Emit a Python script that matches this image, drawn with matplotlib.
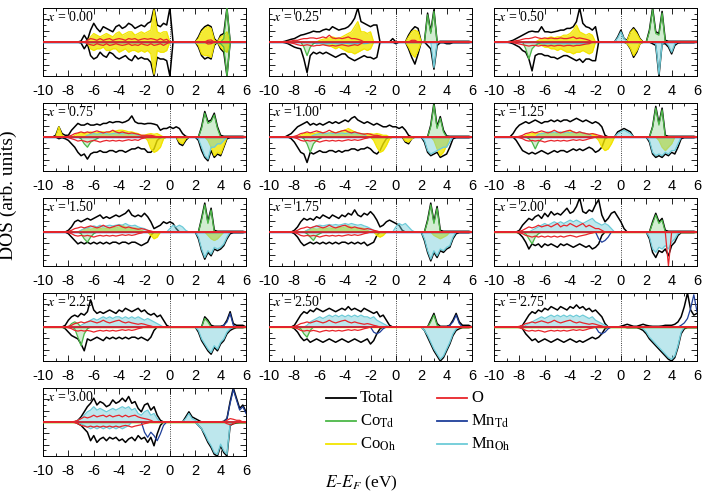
import numpy as np
import matplotlib.pyplot as plt
from matplotlib.ticker import MultipleLocator
from matplotlib.lines import Line2D

plt.rcParams['mathtext.fontset'] = 'stix'
plt.rcParams['axes.unicode_minus'] = False

STEP = 0.25
energy = np.arange(-10, 6 + STEP / 2, STEP)

# every curve: list of (first energy, values every 0.25 eV); DOS is zero elsewhere
# spin-down lists hold magnitudes, they are drawn below the axis

# ---- x = 0.00
tot_up_000 = [(-7.0, [0.03, 0.2, 0.05, 0.35, 0.55, 0.4, 0.3, 0.45, 0.4, 0.35, 0.3, 0.45, 0.5, 0.4, 0.45, 0.55, 0.5, 0.4, 0.45, 0.5, 0.45, 0.55, 0.6, 1.0, 0.5, 0.45, 0.55, 0.5, 1.0, 0.0]),
              (2.0, [0.0, 0.15, 0.35, 0.45, 0.5, 0.45, 0.1, 0.0, 0.2, 0.25, 1.0, 0.0])]
tot_dn_000 = [(-7.0, [0.03, 0.2, 0.05, 0.4, 0.5, 0.45, 0.3, 0.4, 0.45, 0.3, 0.35, 0.45, 0.5, 0.45, 0.4, 0.5, 0.55, 0.4, 0.5, 0.45, 0.5, 0.5, 0.6, 1.0, 0.45, 0.5, 0.5, 0.55, 1.0, 0.0]),
              (2.0, [0.0, 0.15, 0.4, 0.5, 0.45, 0.5, 0.1, 0.0, 0.2, 0.3, 1.0, 0.0])]
cooh_up_000 = [(-6.5, [0.02, 0.15, 0.25, 0.2, 0.15, 0.2, 0.25, 0.2, 0.15, 0.25, 0.3, 0.2, 0.25, 0.3, 0.3, 0.2, 0.25, 0.3, 0.25, 0.3, 0.35, 0.95, 0.3, 0.25, 0.3, 0.3, 0.0]),
               (2.0, [0.0, 0.1, 0.3, 0.4, 0.45, 0.4, 0.05, 0.0, 0.15, 0.2, 0.3, 0.0])]
cooh_dn_000 = [(-6.5, [0.02, 0.2, 0.25, 0.2, 0.2, 0.15, 0.25, 0.25, 0.2, 0.2, 0.3, 0.25, 0.2, 0.3, 0.25, 0.25, 0.3, 0.25, 0.3, 0.25, 0.35, 0.95, 0.25, 0.3, 0.3, 0.25, 0.0]),
               (2.0, [0.0, 0.1, 0.35, 0.4, 0.4, 0.45, 0.05, 0.0, 0.15, 0.25, 0.3, 0.0])]
cotd_up_000 = [(4.0, [0.0, 0.1, 1.0, 0.0])]
cotd_dn_000 = [(4.0, [0.05, 0.15, 1.0, 0.0])]
o_up_000 = [(-6.5, [0.05, 0.1, 0.08, 0.05, 0.1, 0.05, 0.08, 0.1, 0.05, 0.08, 0.1, 0.08, 0.05, 0.1, 0.08, 0.1, 0.05, 0.08, 0.1, 0.08, 0.1, 0.08, 0.05, 0.1, 0.05, 0.08, 0.0]),
            (2.75, [0.0, 0.05, 0.06, 0.0])]
o_dn_000 = [(-6.5, [0.05, 0.08, 0.1, 0.05, 0.08, 0.1, 0.05, 0.1, 0.08, 0.05, 0.08, 0.1, 0.08, 0.05, 0.1, 0.08, 0.1, 0.05, 0.08, 0.1, 0.05, 0.1, 0.08, 0.05, 0.1, 0.05, 0.0]),
            (2.75, [0.0, 0.06, 0.05, 0.0])]

# ---- x = 0.25
tot_up_025 = [(-9.0, [0.0, 0.02, 0.05, 0.08, 0.1, 0.15, 0.2, 0.22, 0.25, 0.28, 0.32, 0.3, 0.3, 0.35, 0.38, 0.35, 0.45, 0.4, 0.35, 0.38, 0.4, 0.45, 0.55, 0.7, 1.0, 0.6, 0.55, 0.5, 0.45, 0.5, 0.5, 0.0]),
              (-0.5, [0.0, 0.1, 0.0]), (0.75, [0.0, 0.2, 0.35, 0.45, 0.4, 0.0]),
              (2.25, [0.0, 0.85, 0.3, 0.95, 0.0, 0.02, 0.02, 0.02, 0.02, 0.02, 0.02, 0.02, 0.02, 0.02, 0.02])]
tot_dn_025 = [(-9.0, [0.0, 0.02, 0.05, 0.1, 0.15, 0.18, 0.2, 0.5, 0.9, 0.4, 0.3, 0.35, 0.3, 0.35, 0.3, 0.35, 0.4, 0.45, 0.4, 0.35, 0.35, 0.45, 0.5, 0.55, 0.5, 0.45, 0.4, 0.45, 0.45, 0.5, 0.45, 0.0]),
              (-0.25, [0.0, 0.05, 0.0]), (0.75, [0.0, 0.2, 0.45, 0.65, 0.35, 0.0]),
              (2.5, [0.1, 0.2, 0.8, 0.1, 0.02, 0.02, 0.05, 0.05, 0.02, 0.02, 0.02, 0.02, 0.02, 0.02])]
cooh_up_025 = [(-6.0, [0.05, 0.08, 0.1, 0.12, 0.15, 0.12, 0.1, 0.15, 0.2, 0.25, 0.3, 0.45, 0.6, 0.3, 0.3, 0.25, 0.3, 0.0]),
               (0.75, [0.0, 0.15, 0.3, 0.35, 0.3, 0.0])]
cooh_dn_025 = [(-6.0, [0.05, 0.05, 0.1, 0.1, 0.15, 0.2, 0.15, 0.2, 0.25, 0.3, 0.3, 0.35, 0.3, 0.25, 0.2, 0.25, 0.2, 0.0]),
               (0.75, [0.0, 0.15, 0.35, 0.45, 0.25, 0.0])]
cotd_up_025 = [(2.25, [0.0, 0.8, 0.25, 0.9, 0.0])]
cotd_dn_025 = [(-7.5, [0.0, 0.15, 0.4, 0.15, 0.05, 0.0])]
mnoh_dn_025 = [(-6.5, [0.03, 0.05, 0.04, 0.05, 0.06, 0.05, 0.04, 0.05, 0.06, 0.05, 0.04, 0.05, 0.06, 0.05, 0.05, 0.04, 0.05, 0.04, 0.0]),
               (2.75, [0.0, 0.75, 0.0])]
o_up_025 = [(-8.5, [0.02, 0.03, 0.05, 0.05, 0.08, 0.1, 0.1, 0.12, 0.12, 0.1, 0.12, 0.15, 0.12, 0.2, 0.12, 0.1, 0.12, 0.1, 0.12, 0.15, 0.1, 0.1, 0.08, 0.05, 0.0]),
            (1.0, [0.0, 0.05, 0.05, 0.0])]
o_dn_025 = [(-8.5, [0.02, 0.03, 0.05, 0.08, 0.1, 0.1, 0.08, 0.1, 0.12, 0.1, 0.1, 0.08, 0.1, 0.12, 0.1, 0.12, 0.1, 0.08, 0.1, 0.12, 0.1, 0.08, 0.1, 0.05, 0.0])]

# ---- x = 0.50
tot_up_050 = [(-9.0, [0.0, 0.02, 0.05, 0.1, 0.15, 0.2, 0.25, 0.3, 0.32, 0.3, 0.3, 0.45, 0.3, 0.3, 0.28, 0.3, 0.32, 0.35, 0.35, 0.4, 0.4, 0.45, 0.6, 1.0, 0.55, 0.45, 0.42, 0.35, 0.45, 0.0]),
              (-0.5, [0.0, 0.15, 0.35, 0.1]), (0.5, [0.05, 0.3, 0.42, 0.3, 0.1, 0.0]),
              (2.0, [0.0, 0.35, 1.0, 0.3, 0.25, 0.9, 0.05, 0.02, 0.02, 0.02, 0.02, 0.02, 0.02, 0.02, 0.02, 0.02, 0.02])]
tot_dn_050 = [(-9.0, [0.0, 0.02, 0.05, 0.1, 0.15, 0.25, 0.3, 0.5, 0.85, 0.4, 0.35, 0.35, 0.4, 0.4, 0.45, 0.45, 0.5, 0.45, 0.4, 0.4, 0.45, 0.5, 0.55, 0.5, 0.6, 0.5, 0.5, 0.55, 0.55, 0.0]),
              (0.5, [0.05, 0.2, 0.45, 0.3, 0.05, 0.0]),
              (2.5, [0.05, 0.1, 1.0, 0.05, 0.05, 0.15, 0.35, 0.1, 0.03, 0.02, 0.02, 0.02, 0.02, 0.02])]
cooh_up_050 = [(-6.5, [0.05, 0.1, 0.1, 0.12, 0.15, 0.12, 0.15, 0.15, 0.2, 0.2, 0.25, 0.35, 0.5, 0.3, 0.25, 0.2, 0.25, 0.2, 0.0]),
               (0.5, [0.05, 0.28, 0.38, 0.25, 0.08, 0.0])]
cooh_dn_050 = [(-6.5, [0.05, 0.1, 0.15, 0.15, 0.2, 0.2, 0.25, 0.2, 0.25, 0.3, 0.3, 0.35, 0.3, 0.3, 0.25, 0.3, 0.35, 0.3, 0.0]),
               (0.5, [0.05, 0.18, 0.4, 0.25, 0.05, 0.0])]
cotd_up_050 = [(2.0, [0.0, 0.3, 0.95, 0.25, 0.2, 0.85, 0.0])]
cotd_dn_050 = [(-7.75, [0.0, 0.2, 0.5, 0.2, 0.1, 0.05, 0.0])]
mnoh_up_050 = [(-0.5, [0.0, 0.12, 0.3, 0.1, 0.0])]
mnoh_dn_050 = [(-6.5, [0.04, 0.05, 0.06, 0.05, 0.06, 0.05, 0.06, 0.05, 0.06, 0.05, 0.06, 0.05, 0.06, 0.05, 0.06, 0.05, 0.04, 0.0]),
               (2.5, [0.0, 0.05, 0.95, 0.05, 0.0, 0.1, 0.3, 0.05, 0.0])]
o_up_050 = [(-8.5, [0.02, 0.04, 0.05, 0.08, 0.1, 0.1, 0.12, 0.15, 0.12, 0.1, 0.12, 0.1, 0.12, 0.1, 0.1, 0.12, 0.1, 0.1, 0.12, 0.15, 0.1, 0.12, 0.1, 0.08, 0.05, 0.0])]
o_dn_050 = [(-8.5, [0.02, 0.04, 0.06, 0.08, 0.1, 0.12, 0.1, 0.1, 0.12, 0.1, 0.1, 0.12, 0.1, 0.12, 0.1, 0.1, 0.12, 0.1, 0.1, 0.12, 0.1, 0.1, 0.08, 0.06, 0.05, 0.0])]

# ---- x = 0.75
tot_up_075 = [(-9.0, [0.05, 0.3, 0.1, 0.05, 0.05, 0.2, 0.3, 0.4, 0.35, 0.35, 0.4, 0.35, 0.35, 0.38, 0.35, 0.4, 0.4, 0.45, 0.42, 0.45, 0.45, 0.42, 0.45, 0.5, 0.62, 0.45, 0.4, 0.4, 0.38, 0.4, 0.4, 0.38, 0.35, 0.2, 0.25, 0.25, 0.3, 0.25, 0.3, 0.25, 0.1, 0.02, 0.0]),
              (2.25, [0.0, 0.3, 0.75, 0.45, 0.5, 0.7, 0.3, 0.05, 0.02, 0.02, 0.02, 0.02, 0.02, 0.02, 0.02])]
tot_dn_075 = [(-8.75, [0.05, 0.02, 0.05, 0.1, 0.2, 0.3, 0.45, 0.55, 0.5, 0.65, 0.5, 0.45, 0.45, 0.4, 0.45, 0.45, 0.4, 0.4, 0.45, 0.4, 0.4, 0.45, 0.4, 0.35, 0.35, 0.3, 0.35, 0.35, 0.45, 0.45, 0.35, 0.1, 0.02, 0.0]),
              (0.5, [0.0, 0.2, 0.25, 0.1, 0.0]),
              (2.0, [0.0, 0.1, 0.4, 0.6, 0.7, 0.4, 0.6, 0.5, 0.55, 0.3, 0.05, 0.02, 0.02, 0.02, 0.02, 0.02])]
cooh_up_075 = [(-9.0, [0.0, 0.3, 0.05, 0.0]),
               (-7.5, [0.05, 0.1, 0.12, 0.1, 0.12, 0.15, 0.12, 0.12, 0.15, 0.15, 0.12, 0.15, 0.15, 0.18, 0.2, 0.2, 0.18, 0.15, 0.15, 0.12, 0.1, 0.05, 0.05, 0.08, 0.1, 0.08, 0.1, 0.05, 0.0])]
cooh_dn_075 = [(-1.75, [0.1, 0.35, 0.45, 0.4, 0.3, 0.05, 0.0]), (0.5, [0.0, 0.15, 0.2, 0.05, 0.0]),
               (3.0, [0.1, 0.3, 0.55, 0.45, 0.5, 0.25, 0.0])]
cotd_up_075 = [(2.25, [0.0, 0.25, 0.7, 0.4, 0.45, 0.65, 0.25, 0.0])]
cotd_dn_075 = [(-7.0, [0.05, 0.2, 0.3, 0.15, 0.1, 0.05, 0.0])]
mnoh_up_075 = [(-6.5, [0.05, 0.08, 0.1, 0.08, 0.1, 0.12, 0.1, 0.08, 0.1, 0.12, 0.1, 0.1, 0.12, 0.1, 0.08, 0.1, 0.05, 0.0])]
mnoh_dn_075 = [(2.0, [0.0, 0.05, 0.3, 0.55, 0.65, 0.3, 0.3, 0.2, 0.2, 0.1, 0.0])]
o_up_075 = [(-8.0, [0.02, 0.05, 0.1, 0.12, 0.15, 0.12, 0.15, 0.12, 0.15, 0.18, 0.15, 0.12, 0.15, 0.15, 0.2, 0.15, 0.12, 0.15, 0.12, 0.1, 0.12, 0.1, 0.08, 0.05, 0.05, 0.05, 0.05, 0.03, 0.0])]
o_dn_075 = [(-8.0, [0.02, 0.05, 0.08, 0.12, 0.1, 0.12, 0.15, 0.12, 0.1, 0.12, 0.15, 0.12, 0.1, 0.12, 0.1, 0.12, 0.1, 0.12, 0.1, 0.08, 0.1, 0.08, 0.1, 0.05, 0.03, 0.0])]

# ---- x = 1.00
tot_up_100 = [(-8.75, [0.0, 0.05, 0.1, 0.2, 0.3, 0.35, 0.4, 0.45, 0.35, 0.4, 0.35, 0.4, 0.35, 0.4, 0.45, 0.4, 0.45, 0.4, 0.45, 0.5, 0.45, 0.55, 0.6, 0.5, 0.45, 0.4, 0.45, 0.4, 0.35, 0.4, 0.35, 0.3, 0.3, 0.35, 0.3, 0.3, 0.25, 0.3, 0.2, 0.05, 0.0]),
              (2.5, [0.0, 0.35, 1.0, 0.3, 0.6, 0.2, 0.03, 0.02, 0.02, 0.02, 0.02, 0.02, 0.02, 0.02])]
tot_dn_100 = [(-8.5, [0.0, 0.05, 0.15, 0.3, 0.45, 0.5, 0.75, 0.45, 0.5, 0.45, 0.4, 0.45, 0.45, 0.4, 0.4, 0.45, 0.4, 0.45, 0.4, 0.4, 0.35, 0.35, 0.4, 0.35, 0.35, 0.3, 0.35, 0.45, 0.5, 0.4, 0.2, 0.05, 0.0]),
              (0.5, [0.0, 0.15, 0.2, 0.05, 0.0]),
              (2.0, [0.0, 0.15, 0.45, 0.55, 0.5, 0.45, 0.6, 0.55, 0.5, 0.3, 0.05, 0.02, 0.02, 0.02, 0.02, 0.02])]
cooh_up_100 = [(-7.5, [0.05, 0.1, 0.1, 0.12, 0.1, 0.12, 0.15, 0.12, 0.1, 0.12, 0.15, 0.12, 0.15, 0.18, 0.2, 0.25, 0.2, 0.15, 0.12, 0.1, 0.1, 0.08, 0.1, 0.08, 0.1, 0.08, 0.05, 0.05, 0.0])]
cooh_dn_100 = [(-1.75, [0.1, 0.3, 0.45, 0.4, 0.25, 0.05, 0.0]), (0.5, [0.0, 0.12, 0.15, 0.05, 0.0]),
               (3.0, [0.1, 0.35, 0.55, 0.45, 0.25, 0.0])]
cotd_up_100 = [(2.5, [0.0, 0.3, 0.95, 0.25, 0.55, 0.15, 0.0])]
cotd_dn_100 = [(-7.25, [0.05, 0.2, 0.45, 0.2, 0.1, 0.05, 0.0])]
mnoh_up_100 = [(-6.5, [0.05, 0.08, 0.1, 0.12, 0.1, 0.12, 0.1, 0.12, 0.1, 0.12, 0.1, 0.12, 0.1, 0.12, 0.1, 0.1, 0.08, 0.0])]
mnoh_dn_100 = [(2.0, [0.0, 0.1, 0.4, 0.5, 0.45, 0.4, 0.35, 0.3, 0.3, 0.15, 0.0])]
o_up_100 = [(-8.0, [0.02, 0.05, 0.1, 0.12, 0.15, 0.12, 0.15, 0.18, 0.15, 0.12, 0.15, 0.2, 0.15, 0.12, 0.15, 0.18, 0.2, 0.15, 0.12, 0.15, 0.12, 0.1, 0.08, 0.1, 0.08, 0.05, 0.05, 0.03, 0.0])]
o_dn_100 = [(-8.0, [0.02, 0.05, 0.1, 0.12, 0.1, 0.12, 0.1, 0.12, 0.15, 0.12, 0.1, 0.12, 0.1, 0.12, 0.1, 0.12, 0.1, 0.08, 0.1, 0.08, 0.1, 0.08, 0.05, 0.03, 0.0])]

# ---- x = 1.25
tot_up_125 = [(-8.75, [0.0, 0.1, 0.25, 0.35, 0.4, 0.45, 0.4, 0.45, 0.5, 0.45, 0.4, 0.45, 0.45, 0.5, 0.45, 0.5, 0.45, 0.5, 0.5, 0.45, 0.5, 0.55, 0.5, 0.45, 0.5, 0.45, 0.4, 0.45, 0.4, 0.3, 0.05, 0.0]),
              (-0.5, [0.0, 0.15, 0.2, 0.25, 0.2, 0.15, 0.0]),
              (2.25, [0.0, 0.3, 0.9, 0.4, 0.85, 0.05, 0.02, 0.02, 0.02, 0.02, 0.02, 0.02, 0.02, 0.02, 0.02])]
tot_dn_125 = [(-8.5, [0.0, 0.1, 0.25, 0.4, 0.45, 0.5, 0.45, 0.5, 0.45, 0.4, 0.45, 0.5, 0.45, 0.4, 0.45, 0.4, 0.4, 0.45, 0.4, 0.35, 0.4, 0.35, 0.4, 0.35, 0.3, 0.35, 0.45, 0.4, 0.3, 0.05, 0.0]),
              (2.0, [0.0, 0.15, 0.5, 0.6, 0.55, 0.6, 0.5, 0.55, 0.45, 0.5, 0.3, 0.05, 0.02, 0.02, 0.02, 0.02])]
cooh_up_125 = [(-7.5, [0.05, 0.08, 0.1, 0.12, 0.1, 0.12, 0.1, 0.12, 0.15, 0.12, 0.1, 0.12, 0.15, 0.15, 0.18, 0.15, 0.12, 0.1, 0.12, 0.1, 0.08, 0.1, 0.05, 0.0])]
cooh_dn_125 = [(-1.75, [0.1, 0.3, 0.4, 0.35, 0.2, 0.0]), (3.0, [0.1, 0.3, 0.4, 0.3, 0.2, 0.0])]
cotd_up_125 = [(2.25, [0.0, 0.28, 0.85, 0.35, 0.8, 0.0])]
cotd_dn_125 = [(-7.25, [0.05, 0.15, 0.35, 0.15, 0.05, 0.0])]
mnoh_up_125 = [(-6.5, [0.08, 0.1, 0.12, 0.15, 0.12, 0.15, 0.12, 0.15, 0.12, 0.15, 0.12, 0.15, 0.12, 0.15, 0.12, 0.1, 0.08, 0.0]),
               (-0.5, [0.0, 0.1, 0.15, 0.2, 0.15, 0.1, 0.0])]
mnoh_dn_125 = [(2.0, [0.0, 0.1, 0.45, 0.55, 0.5, 0.55, 0.45, 0.5, 0.4, 0.4, 0.2, 0.0])]
o_up_125 = [(-8.0, [0.02, 0.05, 0.1, 0.12, 0.15, 0.12, 0.15, 0.18, 0.15, 0.12, 0.15, 0.2, 0.15, 0.12, 0.15, 0.18, 0.2, 0.15, 0.12, 0.15, 0.12, 0.1, 0.08, 0.1, 0.08, 0.05, 0.03, 0.0])]
o_dn_125 = [(-8.0, [0.02, 0.05, 0.1, 0.12, 0.1, 0.12, 0.1, 0.12, 0.15, 0.12, 0.1, 0.12, 0.1, 0.12, 0.1, 0.12, 0.1, 0.08, 0.1, 0.08, 0.1, 0.08, 0.05, 0.03, 0.0])]

# ---- x = 1.50
tot_up_150 = [(-8.25, [0.0, 0.05, 0.15, 0.3, 0.35, 0.3, 0.35, 0.4, 0.35, 0.4, 0.45, 0.5, 0.4, 0.45, 0.4, 0.45, 0.5, 0.45, 0.5, 0.55, 0.65, 0.5, 0.45, 0.5, 0.45, 0.55, 0.45, 0.3, 0.1, 0.15, 0.2, 0.3, 0.25, 0.3, 0.25, 0.1, 0.0]),
              (2.25, [0.0, 0.4, 0.85, 0.3, 0.7, 0.05, 0.02, 0.02, 0.02, 0.02, 0.02, 0.02, 0.02, 0.02, 0.02])]
tot_dn_150 = [(-8.25, [0.0, 0.05, 0.15, 0.25, 0.35, 0.3, 0.35, 0.3, 0.35, 0.3, 0.35, 0.3, 0.35, 0.3, 0.35, 0.3, 0.3, 0.35, 0.3, 0.3, 0.35, 0.3, 0.3, 0.35, 0.4, 0.35, 0.3, 0.1, 0.0]),
              (2.0, [0.0, 0.2, 0.55, 0.8, 0.6, 0.7, 0.5, 0.55, 0.5, 0.4, 0.2, 0.05, 0.02, 0.02, 0.02, 0.02])]
cooh_up_150 = [(-7.0, [0.05, 0.08, 0.1, 0.08, 0.1, 0.12, 0.1, 0.12, 0.1, 0.12, 0.15, 0.12, 0.15, 0.2, 0.15, 0.12, 0.1, 0.12, 0.1, 0.05, 0.0])]
cooh_dn_150 = [(-1.5, [0.1, 0.2, 0.15, 0.0]), (3.0, [0.1, 0.2, 0.25, 0.2, 0.1, 0.0])]
cotd_up_150 = [(2.25, [0.0, 0.35, 0.8, 0.25, 0.65, 0.0])]
cotd_dn_150 = [(-7.0, [0.05, 0.2, 0.3, 0.15, 0.05, 0.0])]
mnoh_up_150 = [(-7.0, [0.05, 0.1, 0.12, 0.15, 0.18, 0.15, 0.2, 0.15, 0.18, 0.2, 0.18, 0.2, 0.22, 0.2, 0.25, 0.2, 0.18, 0.2, 0.15, 0.12, 0.1, 0.05, 0.0]),
               (-0.25, [0.0, 0.1, 0.2, 0.15, 0.2, 0.15, 0.05, 0.0])]
mnoh_dn_150 = [(2.0, [0.0, 0.15, 0.5, 0.75, 0.55, 0.65, 0.45, 0.5, 0.45, 0.35, 0.15, 0.0])]
o_up_150 = [(-8.0, [0.02, 0.05, 0.1, 0.12, 0.15, 0.12, 0.15, 0.18, 0.15, 0.12, 0.15, 0.2, 0.15, 0.12, 0.15, 0.18, 0.2, 0.15, 0.12, 0.15, 0.12, 0.1, 0.08, 0.1, 0.08, 0.05, 0.03, 0.0])]
o_dn_150 = [(-8.0, [0.02, 0.05, 0.1, 0.12, 0.1, 0.12, 0.1, 0.12, 0.15, 0.12, 0.1, 0.12, 0.1, 0.12, 0.1, 0.12, 0.1, 0.08, 0.1, 0.08, 0.1, 0.08, 0.05, 0.03, 0.0])]

# ---- x = 1.75
tot_up_175 = [(-8.25, [0.0, 0.05, 0.15, 0.3, 0.4, 0.35, 0.4, 0.35, 0.45, 0.4, 0.5, 0.45, 0.4, 0.5, 0.45, 0.4, 0.5, 0.45, 0.55, 0.5, 0.65, 0.5, 0.45, 0.55, 0.5, 0.6, 0.5, 0.35, 0.15, 0.2, 0.3, 0.35, 0.3, 0.25, 0.2, 0.05, 0.0]),
              (2.25, [0.0, 0.35, 0.85, 0.3, 0.75, 0.05, 0.02, 0.02, 0.02, 0.02, 0.02, 0.02, 0.02, 0.02, 0.02])]
tot_dn_175 = [(-8.25, [0.0, 0.05, 0.15, 0.3, 0.4, 0.35, 0.3, 0.35, 0.3, 0.35, 0.3, 0.35, 0.3, 0.35, 0.3, 0.35, 0.3, 0.3, 0.35, 0.3, 0.35, 0.3, 0.35, 0.3, 0.4, 0.35, 0.3, 0.1, 0.0]),
              (2.0, [0.0, 0.25, 0.6, 0.85, 0.6, 0.75, 0.55, 0.6, 0.5, 0.45, 0.2, 0.05, 0.02, 0.02, 0.02, 0.02])]
cooh_up_175 = [(-7.0, [0.05, 0.08, 0.1, 0.08, 0.1, 0.12, 0.1, 0.12, 0.1, 0.12, 0.15, 0.12, 0.15, 0.18, 0.15, 0.12, 0.1, 0.12, 0.1, 0.05, 0.0])]
cooh_dn_175 = [(-1.5, [0.1, 0.15, 0.1, 0.0]), (3.0, [0.1, 0.15, 0.2, 0.15, 0.1, 0.0])]
cotd_up_175 = [(2.25, [0.0, 0.3, 0.8, 0.25, 0.7, 0.0])]
cotd_dn_175 = [(-7.0, [0.05, 0.15, 0.25, 0.1, 0.05, 0.0])]
mnoh_up_175 = [(-7.0, [0.05, 0.1, 0.15, 0.18, 0.2, 0.18, 0.2, 0.22, 0.2, 0.22, 0.2, 0.22, 0.25, 0.22, 0.25, 0.22, 0.2, 0.22, 0.18, 0.15, 0.1, 0.05, 0.0]),
               (-0.25, [0.0, 0.15, 0.25, 0.2, 0.25, 0.15, 0.05, 0.0])]
mnoh_dn_175 = [(2.0, [0.0, 0.2, 0.55, 0.8, 0.55, 0.7, 0.5, 0.55, 0.45, 0.4, 0.15, 0.0])]
o_up_175 = [(-8.0, [0.02, 0.05, 0.1, 0.12, 0.15, 0.12, 0.15, 0.18, 0.15, 0.12, 0.15, 0.2, 0.15, 0.12, 0.15, 0.18, 0.2, 0.15, 0.12, 0.15, 0.12, 0.1, 0.08, 0.1, 0.08, 0.05, 0.03, 0.0])]
o_dn_175 = [(-8.0, [0.02, 0.05, 0.1, 0.12, 0.1, 0.12, 0.1, 0.12, 0.15, 0.12, 0.1, 0.12, 0.1, 0.12, 0.1, 0.12, 0.1, 0.08, 0.1, 0.08, 0.1, 0.08, 0.05, 0.03, 0.0])]

# ---- x = 2.00
tot_up_200 = [(-8.25, [0.0, 0.05, 0.2, 0.3, 0.4, 0.35, 0.45, 0.5, 0.4, 0.55, 0.45, 0.6, 0.5, 0.55, 0.5, 0.6, 0.7, 0.55, 0.6, 0.75, 1.0, 0.6, 0.55, 0.65, 0.6, 0.8, 0.95, 0.5, 0.3, 0.4, 0.55, 0.6, 0.45, 0.3, 0.1, 0.0]),
              (2.25, [0.0, 0.3, 0.55, 0.3, 0.4, 0.05, 0.02, 0.02, 0.02, 0.02, 0.02, 0.02, 0.02, 0.02, 0.02])]
tot_dn_200 = [(-8.25, [0.0, 0.05, 0.15, 0.3, 0.5, 0.35, 0.4, 0.35, 0.45, 0.35, 0.4, 0.35, 0.4, 0.45, 0.35, 0.4, 0.35, 0.4, 0.45, 0.4, 0.35, 0.4, 0.45, 0.4, 0.5, 0.45, 0.35, 0.1, 0.0]),
              (2.0, [0.0, 0.2, 0.6, 0.75, 0.55, 0.6, 0.5, 0.7, 0.4, 0.3, 0.1, 0.02, 0.02, 0.02, 0.02, 0.02])]
cotd_up_200 = [(2.25, [0.0, 0.25, 0.5, 0.25, 0.35, 0.0])]
cotd_dn_200 = [(-7.5, [0.05, 0.2, 0.35, 0.15, 0.05, 0.0])]
mnoh_up_200 = [(-7.0, [0.05, 0.1, 0.15, 0.2, 0.25, 0.2, 0.25, 0.3, 0.25, 0.3, 0.25, 0.3, 0.35, 0.3, 0.35, 0.3, 0.25, 0.3, 0.35, 0.4, 0.3, 0.25, 0.2, 0.25, 0.2, 0.1, 0.0])]
mnoh_dn_200 = [(2.0, [0.0, 0.15, 0.5, 0.6, 0.45, 0.5, 0.4, 0.5, 0.3, 0.2, 0.05, 0.0])]
mntd_dn_200 = [(-2.0, [0.0, 0.2, 0.3, 0.25, 0.15, 0.0])]
o_up_200 = [(-8.0, [0.02, 0.05, 0.1, 0.15, 0.12, 0.15, 0.2, 0.15, 0.18, 0.2, 0.15, 0.2, 0.25, 0.15, 0.2, 0.18, 0.25, 0.2, 0.15, 0.2, 0.25, 0.15, 0.2, 0.15, 0.1, 0.1, 0.05, 0.0])]
o_dn_200 = [(-8.0, [0.02, 0.05, 0.1, 0.12, 0.15, 0.12, 0.15, 0.12, 0.15, 0.12, 0.15, 0.12, 0.15, 0.12, 0.15, 0.12, 0.1, 0.12, 0.15, 0.12, 0.1, 0.08, 0.05, 0.03, 0.0]),
            (3.5, [0.0, 1.0, 0.0])]

# ---- x = 2.25
tot_up_225 = [(-8.5, [0.0, 0.05, 0.2, 0.3, 0.35, 0.3, 0.4, 0.35, 0.45, 0.8, 0.5, 0.4, 0.45, 0.4, 0.45, 0.5, 0.45, 0.4, 0.5, 0.45, 0.55, 0.5, 0.45, 0.5, 0.55, 0.45, 0.5, 0.4, 0.35, 0.4, 0.3, 0.35, 0.2, 0.05, 0.0]),
              (2.5, [0.0, 0.3, 0.2, 0.05, 0.02, 0.02, 0.02, 0.05, 0.2, 0.45, 0.1, 0.05, 0.05, 0.05])]
tot_dn_225 = [(-8.5, [0.0, 0.05, 0.15, 0.25, 0.3, 0.35, 0.5, 0.7, 0.35, 0.4, 0.35, 0.3, 0.35, 0.4, 0.3, 0.35, 0.3, 0.35, 0.3, 0.35, 0.3, 0.35, 0.3, 0.3, 0.35, 0.3, 0.35, 0.4, 0.3, 0.1, 0.0]),
              (2.0, [0.0, 0.15, 0.4, 0.55, 0.7, 0.8, 0.6, 0.7, 0.5, 0.4, 0.2, 0.1, 0.05, 0.02, 0.02, 0.02])]
cotd_up_225 = [(-8.0, [0.0, 0.1, 0.15, 0.1, 0.0]), (2.5, [0.0, 0.25, 0.15, 0.0])]
cotd_dn_225 = [(-7.5, [0.05, 0.3, 0.55, 0.2, 0.05, 0.0])]
mnoh_up_225 = [(-7.0, [0.05, 0.1, 0.15, 0.2, 0.25, 0.2, 0.25, 0.3, 0.25, 0.3, 0.25, 0.3, 0.3, 0.25, 0.3, 0.25, 0.3, 0.25, 0.3, 0.25, 0.2, 0.25, 0.2, 0.15, 0.1, 0.05, 0.0])]
mnoh_dn_225 = [(2.0, [0.0, 0.1, 0.35, 0.5, 0.65, 0.75, 0.55, 0.65, 0.45, 0.35, 0.15, 0.05, 0.0])]
mntd_up_225 = [(4.0, [0.0, 0.05, 0.15, 0.4, 0.05, 0.0])]
o_up_225 = [(-8.0, [0.02, 0.05, 0.1, 0.12, 0.15, 0.12, 0.15, 0.18, 0.15, 0.12, 0.15, 0.2, 0.15, 0.12, 0.15, 0.18, 0.2, 0.15, 0.12, 0.15, 0.12, 0.1, 0.08, 0.1, 0.08, 0.05, 0.03, 0.0])]
o_dn_225 = [(-8.0, [0.02, 0.05, 0.1, 0.12, 0.1, 0.12, 0.1, 0.12, 0.15, 0.12, 0.1, 0.12, 0.1, 0.12, 0.1, 0.12, 0.1, 0.08, 0.1, 0.08, 0.1, 0.08, 0.05, 0.03, 0.0])]

# ---- x = 2.50
tot_up_250 = [(-8.25, [0.0, 0.05, 0.2, 0.35, 0.45, 0.4, 0.5, 0.45, 0.55, 0.5, 0.45, 0.5, 0.55, 0.5, 0.45, 0.5, 0.55, 0.5, 0.6, 0.5, 0.55, 0.5, 0.45, 0.55, 0.5, 0.45, 0.4, 0.45, 0.3, 0.35, 0.2, 0.05, 0.0]),
              (2.5, [0.0, 0.2, 0.4, 0.1, 0.02, 0.02, 0.02, 0.05, 0.2, 0.4, 0.15, 0.05, 0.05, 0.05])]
tot_dn_250 = [(-8.25, [0.0, 0.05, 0.15, 0.3, 0.4, 0.35, 0.45, 0.4, 0.35, 0.4, 0.45, 0.4, 0.35, 0.4, 0.45, 0.4, 0.35, 0.4, 0.45, 0.4, 0.35, 0.4, 0.45, 0.4, 0.35, 0.5, 0.4, 0.2, 0.05, 0.0]),
              (2.0, [0.0, 0.1, 0.3, 0.5, 0.7, 0.85, 1.0, 0.9, 0.7, 0.5, 0.25, 0.1, 0.05, 0.02, 0.02, 0.02])]
cotd_up_250 = [(2.5, [0.0, 0.15, 0.35, 0.05, 0.0])]
cotd_dn_250 = [(-7.5, [0.05, 0.2, 0.3, 0.1, 0.0])]
mnoh_up_250 = [(-7.0, [0.05, 0.15, 0.2, 0.25, 0.3, 0.25, 0.3, 0.35, 0.3, 0.35, 0.3, 0.35, 0.3, 0.35, 0.3, 0.35, 0.3, 0.35, 0.3, 0.3, 0.25, 0.3, 0.2, 0.15, 0.1, 0.05, 0.0])]
mnoh_dn_250 = [(2.0, [0.0, 0.1, 0.25, 0.45, 0.65, 0.8, 0.95, 0.85, 0.65, 0.45, 0.2, 0.05, 0.0])]
mntd_up_250 = [(4.0, [0.0, 0.05, 0.15, 0.35, 0.1, 0.0])]
mntd_dn_250 = [(-2.0, [0.0, 0.15, 0.2, 0.15, 0.05, 0.0])]
o_up_250 = [(-8.0, [0.02, 0.05, 0.1, 0.12, 0.15, 0.12, 0.15, 0.18, 0.15, 0.12, 0.15, 0.2, 0.15, 0.12, 0.15, 0.18, 0.2, 0.15, 0.12, 0.15, 0.12, 0.1, 0.08, 0.1, 0.08, 0.05, 0.03, 0.0])]
o_dn_250 = [(-8.0, [0.02, 0.05, 0.1, 0.12, 0.1, 0.12, 0.1, 0.12, 0.15, 0.12, 0.1, 0.12, 0.1, 0.12, 0.1, 0.12, 0.1, 0.08, 0.1, 0.08, 0.1, 0.08, 0.05, 0.03, 0.0])]

# ---- x = 2.75
tot_up_275 = [(-8.0, [0.0, 0.05, 0.2, 0.35, 0.45, 0.4, 0.5, 0.45, 0.55, 0.5, 0.6, 0.55, 0.5, 0.6, 0.55, 0.5, 0.6, 0.55, 0.65, 0.55, 0.6, 0.5, 0.55, 0.45, 0.5, 0.4, 0.3, 0.1, 0.0]),
              (0.0, [0.02, 0.05, 0.08, 0.05, 0.02, 0.02, 0.05, 0.08, 0.05, 0.03, 0.02, 0.02, 0.02, 0.03, 0.05, 0.05, 0.05, 0.08, 0.15, 0.3, 0.6, 1.0, 0.5, 0.35, 0.4])]
tot_dn_275 = [(-8.0, [0.0, 0.05, 0.2, 0.3, 0.4, 0.35, 0.45, 0.4, 0.35, 0.4, 0.45, 0.4, 0.35, 0.4, 0.45, 0.4, 0.35, 0.4, 0.45, 0.4, 0.45, 0.4, 0.35, 0.3, 0.35, 0.3, 0.2, 0.05, 0.0]),
              (0.25, [0.0, 0.02, 0.02, 0.02, 0.02, 0.05, 0.1, 0.2, 0.35, 0.45, 0.55, 0.65, 0.75, 0.85, 0.95, 1.0, 0.9, 0.6, 0.2, 0.05, 0.02, 0.02, 0.02, 0.02])]
mnoh_up_275 = [(-7.5, [0.05, 0.1, 0.15, 0.2, 0.25, 0.3, 0.25, 0.3, 0.35, 0.3, 0.35, 0.3, 0.35, 0.3, 0.35, 0.3, 0.35, 0.3, 0.35, 0.3, 0.25, 0.3, 0.2, 0.15, 0.1, 0.05, 0.0])]
mnoh_dn_275 = [(1.5, [0.0, 0.05, 0.15, 0.3, 0.4, 0.5, 0.6, 0.7, 0.8, 0.9, 0.95, 0.85, 0.55, 0.15, 0.0])]
mntd_up_275 = [(4.5, [0.0, 0.05, 0.12, 0.25, 0.55, 0.95, 0.45, 0.3, 0.35])]
mntd_dn_275 = [(-2.0, [0.0, 0.15, 0.2, 0.15, 0.05, 0.0])]
o_up_275 = [(-8.0, [0.02, 0.05, 0.1, 0.12, 0.15, 0.12, 0.15, 0.18, 0.15, 0.12, 0.15, 0.2, 0.15, 0.12, 0.15, 0.18, 0.2, 0.15, 0.12, 0.15, 0.12, 0.1, 0.08, 0.1, 0.08, 0.05, 0.03, 0.0])]
o_dn_275 = [(-8.0, [0.02, 0.05, 0.1, 0.12, 0.1, 0.12, 0.1, 0.12, 0.15, 0.12, 0.1, 0.12, 0.1, 0.12, 0.1, 0.12, 0.1, 0.08, 0.1, 0.08, 0.1, 0.08, 0.05, 0.03, 0.0])]

# ---- x = 3.00
tot_up_300 = [(-7.5, [0.0, 0.05, 0.15, 0.3, 0.45, 0.55, 0.7, 0.5, 0.6, 0.55, 0.45, 0.5, 0.65, 0.55, 0.6, 0.7, 0.6, 0.75, 0.55, 0.6, 0.4, 0.3, 0.5, 0.55, 0.35, 0.45, 0.2, 0.05, 0.0]),
              (1.0, [0.0, 0.15, 0.3, 0.15, 0.1, 0.05, 0.0]),
              (4.25, [0.02, 0.1, 0.6, 1.0, 0.7, 0.4, 0.5, 0.3])]
tot_dn_300 = [(-7.5, [0.0, 0.05, 0.1, 0.2, 0.3, 0.55, 0.4, 0.6, 0.5, 0.45, 0.55, 0.45, 0.5, 0.45, 0.55, 0.5, 0.6, 0.5, 0.45, 0.55, 0.4, 0.5, 0.45, 0.6, 0.45, 0.7, 0.35, 0.1, 0.0]),
              (2.0, [0.0, 0.1, 0.2, 0.4, 0.6, 0.75, 0.95, 1.0, 0.7, 0.9, 1.0, 0.1, 0.05, 0.03, 0.02, 0.02, 0.02])]
mnoh_up_300 = [(-7.5, [0.0, 0.05, 0.1, 0.2, 0.3, 0.35, 0.45, 0.35, 0.4, 0.35, 0.3, 0.35, 0.4, 0.35, 0.4, 0.45, 0.4, 0.45, 0.35, 0.4, 0.25, 0.2, 0.3, 0.35, 0.2, 0.25, 0.1, 0.0]),
               (1.0, [0.0, 0.1, 0.25, 0.1, 0.05, 0.0])]
mnoh_dn_300 = [(-7.0, [0.05, 0.1, 0.15, 0.2, 0.15, 0.2, 0.15, 0.2, 0.15, 0.2, 0.15, 0.2, 0.15, 0.2, 0.15, 0.1, 0.0]),
               (2.0, [0.0, 0.1, 0.2, 0.35, 0.55, 0.7, 0.9, 0.95, 0.65, 0.85, 0.95, 0.05, 0.0])]
mntd_up_300 = [(4.25, [0.0, 0.1, 0.55, 0.95, 0.65, 0.35, 0.45, 0.25])]
mntd_dn_300 = [(-2.25, [0.0, 0.3, 0.45, 0.3, 0.4, 0.55, 0.35, 0.1, 0.0])]
o_up_300 = [(-7.5, [0.02, 0.05, 0.1, 0.15, 0.12, 0.15, 0.2, 0.15, 0.18, 0.2, 0.15, 0.2, 0.15, 0.18, 0.2, 0.15, 0.2, 0.15, 0.18, 0.2, 0.15, 0.12, 0.1, 0.08, 0.05, 0.0]),
            (4.25, [0.0, 0.05, 0.1, 0.08, 0.05, 0.05])]
o_dn_300 = [(-7.5, [0.02, 0.05, 0.1, 0.12, 0.15, 0.12, 0.15, 0.12, 0.15, 0.12, 0.15, 0.12, 0.15, 0.12, 0.15, 0.12, 0.1, 0.12, 0.15, 0.12, 0.1, 0.08, 0.05, 0.03, 0.0]),
            (4.25, [0.0, 0.05, 0.08, 0.05, 0.0])]

x_labels = ['0.00', '0.25', '0.50', '0.75', '1.00', '1.25', '1.50',
            '1.75', '2.00', '2.25', '2.50', '2.75', '3.00']
suffixes = ['000', '025', '050', '075', '100', '125', '150',
            '175', '200', '225', '250', '275', '300']

species = ['cooh', 'mnoh', 'cotd', 'mntd', 'o']
colors = {'tot': 'black', 'o': '#e8242a', 'cotd': '#4cb848', 'mntd': '#1f3f9a',
          'cooh': '#f2e500', 'mnoh': '#6dcbd8'}
fill_alpha = {'cooh': 0.8, 'mnoh': 0.45, 'cotd': 0.25, 'mntd': 0.0, 'o': 0.0}


def curve(segs):
    y = np.zeros(len(energy))
    for start, vals in segs:
        i0 = int(round((start + 10) / STEP))
        vals = vals[:len(energy) - i0]
        y[i0:i0 + len(vals)] = vals
    return y


def get(name):
    return curve(globals().get(name, []))


fig = plt.figure(figsize=(7.08, 4.95), dpi=100)
W, H = 708, 495
col_left = [43, 269, 494]
row_top = [8, 103, 198, 293, 388]
ax_w, ax_h = 203, 68

for k, (lab, suf) in enumerate(zip(x_labels, suffixes)):
    r, c = divmod(k, 3)
    ax = fig.add_axes([col_left[c] / W, 1 - (row_top[r] + ax_h) / H, ax_w / W, ax_h / H])

    up = get('tot_up_' + suf)
    dn = get('tot_dn_' + suf)
    ax.plot(energy, up, color='black', lw=1.1, zorder=2)
    ax.plot(energy, -dn, color='black', lw=1.1, zorder=2)
    for sp in species:
        cu = get(sp + '_up_' + suf)
        cd = get(sp + '_dn_' + suf)
        z = 4 if sp == 'o' else 3
        if fill_alpha[sp] > 0:
            ax.fill_between(energy, 0, cu, color=colors[sp], lw=0, alpha=fill_alpha[sp], zorder=z)
            ax.fill_between(energy, 0, -cd, color=colors[sp], lw=0, alpha=fill_alpha[sp], zorder=z)
        ax.plot(energy, cu, color=colors[sp], lw=0.9, zorder=z)
        ax.plot(energy, -cd, color=colors[sp], lw=0.9, zorder=z)
    ax.axhline(0, color=colors['o'], lw=1.2, zorder=5)
    ax.axvline(0, color='black', lw=0.6, ls=':', zorder=1)

    ax.set_xlim(-10, 6)
    ax.set_ylim(-1, 1)
    ax.set_xticks(range(-10, 7, 2))
    ax.xaxis.set_minor_locator(MultipleLocator(1))
    ax.yaxis.set_major_locator(MultipleLocator(1 / 3))
    ax.yaxis.set_minor_locator(MultipleLocator(1 / 6))
    ax.set_yticklabels([])
    ax.tick_params(which='both', direction='in', top=True, right=True, width=0.6)
    ax.tick_params(which='major', length=4)
    ax.tick_params(which='minor', length=2)
    ax.tick_params(axis='x', labelsize=10.5, pad=6)
    for t in ax.get_xticklabels():
        t.set_family('Liberation Sans')
    for s in ax.spines.values():
        s.set_linewidth(0.7)
    ax.text(0.02, 0.97, '$x$ = ' + lab, transform=ax.transAxes, ha='left', va='top',
            fontsize=10, family='Liberation Serif', zorder=6)

# legend drawn by hand in figure pixels
legend_items = [('Total', 'tot', 326, 398), ('Co$_{\\rm Td}$', 'cotd', 326, 421),
                ('Co$_{\\rm Oh}$', 'cooh', 326, 444), ('O', 'o', 437, 398),
                ('Mn$_{\\rm Td}$', 'mntd', 437, 421), ('Mn$_{\\rm Oh}$', 'mnoh', 437, 444)]
for text, key, x0, y0 in legend_items:
    fig.add_artist(Line2D([x0 / W, (x0 + 30) / W], [1 - y0 / H, 1 - y0 / H],
                          color=colors[key], lw=1.3, transform=fig.transFigure))
    fig.text((x0 + 34) / W, 1 - y0 / H, text, ha='left', va='center',
             fontsize=12, family='Liberation Serif')

fig.text(361 / W, 1 - 483 / H, '$E$-$E_F$ (eV)', ha='center', va='center',
         fontsize=12.5, family='Liberation Serif')
fig.text(8 / W, 1 - 195 / H, 'DOS (arb. units)', ha='center', va='center',
         rotation=90, fontsize=14, family='Liberation Serif')

fig.savefig('out.png', dpi=100)
